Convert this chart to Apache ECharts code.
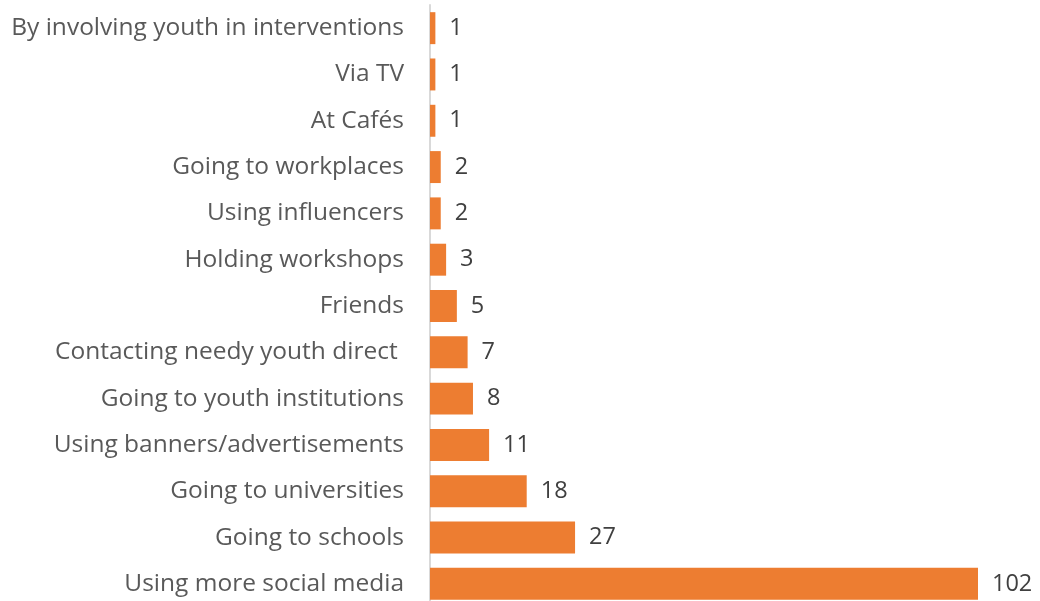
<!DOCTYPE html>
<html>
<head>
<meta charset="utf-8">
<script src="https://cdn.jsdelivr.net/npm/echarts@6/dist/echarts.min.js"></script>
<style>
  html, body { margin: 0; padding: 0; background: #ffffff; }
  #chart { width: 1040px; height: 601px; }
</style>
</head>
<body>
<div id="chart"></div>
<script>
// Outreach approaches, listed top to bottom as drawn
const categories = [
  'By involving youth in interventions',
  'Via TV',
  'At Cafés',
  'Going to workplaces',
  'Using influencers',
  'Holding workshops',
  'Friends',
  'Contacting needy youth direct ',
  'Going to youth institutions',
  'Using banners/advertisements',
  'Going to universities',
  'Going to schools',
  'Using more social media'
];
const counts = [1, 1, 1, 2, 2, 3, 5, 7, 8, 11, 18, 27, 102];

const chart = echarts.init(document.getElementById('chart'));
chart.setOption({
  animation: false,
  grid: {
    left: 430, right: 62, top: 5, height: 602,
    containLabel: false,
    outerBoundsMode: 'none'
  },
  xAxis: {
    type: 'value',
    min: 0,
    max: 102,
    show: false
  },
  yAxis: {
    type: 'category',
    inverse: true,
    data: categories,
    axisLine: { show: true, lineStyle: { color: '#d9d9d9', width: 2 } },
    axisTick: { show: false },
    axisLabel: {
      margin: 26,
      color: '#595959',
      fontFamily: 'Open Sans',
      fontSize: 24.5,
      padding: [4, 0, 0, 0]
    }
  },
  series: [{
    type: 'bar',
    data: counts,
    barCategoryGap: '31%',
    itemStyle: { color: '#ED7D31' },
    label: {
      show: true,
      position: 'right',
      distance: 14,
      color: '#404040',
      fontFamily: 'Open Sans',
      fontSize: 23.5,
      padding: [4, 0, 0, 0]
    }
  }]
});
</script>
</body>
</html>
